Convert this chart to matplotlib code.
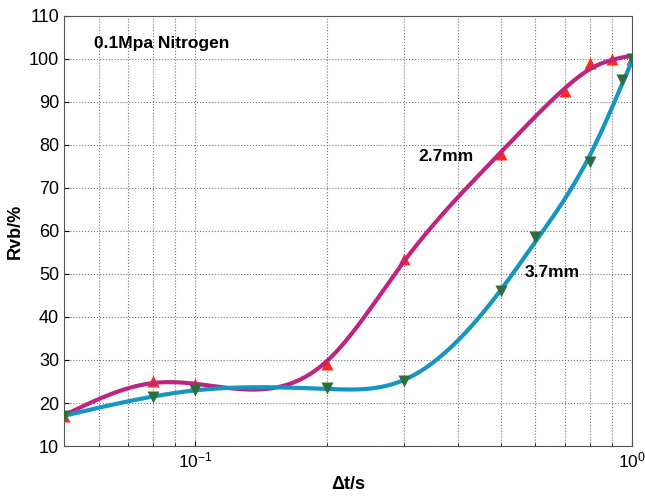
import numpy as np
import matplotlib
matplotlib.use("Agg")
import matplotlib.pyplot as plt

# data
t_27 = [0.05, 0.08, 0.1, 0.2, 0.3, 0.5, 0.7, 0.8, 0.9, 1.0]
r_27 = [17, 25, 24.5, 29, 53.5, 78, 92.5, 99, 100, 100]
t_37 = [0.05, 0.08, 0.1, 0.2, 0.3, 0.5, 0.6, 0.8, 0.95, 1.0]
r_37 = [17, 21.5, 23, 23.5, 25, 46, 58.5, 76, 95, 100]

yticks = [10, 20, 30, 40, 50, 60, 70, 80, 90, 100, 110]

plt.rcParams["font.family"] = ["Liberation Sans", "DejaVu Sans"]
plt.rcParams["mathtext.fontset"] = "custom"
plt.rcParams["mathtext.rm"] = "Liberation Sans"


# smoothing spline (penalised second difference) of the points, in log(t)
def smooth_curve(t, r, lam=8e-5, n=400):
    x = np.log10(t)
    y = np.asarray(r, float)
    xs = np.linspace(x[0], x[-1], n)
    h = xs[1] - xs[0]
    W = np.zeros((len(x), n))
    for i, xi in enumerate(x):
        j = min(int((xi - xs[0]) / h), n - 2)
        w = (xi - xs[j]) / h
        W[i, j] = 1 - w
        W[i, j + 1] = w
    D = np.diff(np.eye(n), 2, axis=0)
    A = W.T @ W + lam / h ** 3 * (D.T @ D)
    ys = np.linalg.solve(A, W.T @ y)
    return 10 ** xs, ys


fig = plt.figure(figsize=(6.45, 4.96), dpi=100)
ax = fig.add_axes([0.0992, 0.1008, 0.881, 0.867])

x1, y1 = smooth_curve(t_27, r_27)
x2, y2 = smooth_curve(t_37, r_37)
ax.plot(t_27, r_27, "^", color="#FF2A1A", ms=9, mec="none", zorder=2)
ax.plot(x1, y1, color="#BF2480", lw=3, zorder=3)
ax.plot(x2, y2, color="#1596C0", lw=3, zorder=4)
ax.plot(t_37, r_37, "v", color="#2D6E3C", ms=9, mec="none", zorder=5)

ax.set_xscale("log")
ax.set_xlim(0.05, 1.0)
ax.set_ylim(10, 110)
ax.set_yticks(yticks)
ax.grid(True, which="both", ls=":", color="#777777", lw=0.8)
ax.tick_params(labelsize=13, direction="in", which="both")
ax.tick_params(axis="x", labelsize=12.5)
for s in ax.spines.values():
    s.set_color("#555555")

ax.set_xlabel("\u0394t/s", fontsize=13, fontweight="bold")
ax.set_ylabel("Rvb/%", fontsize=13, fontweight="bold")

ax.text(0.0585, 103.6, "0.1Mpa Nitrogen", fontsize=12.5, fontweight="bold", va="center")
ax.text(0.324, 77.4, "2.7mm", fontsize=12.5, fontweight="bold", va="center")
ax.text(0.566, 50.4, "3.7mm", fontsize=12.5, fontweight="bold", va="center")

fig.savefig("out.png", dpi=100)
